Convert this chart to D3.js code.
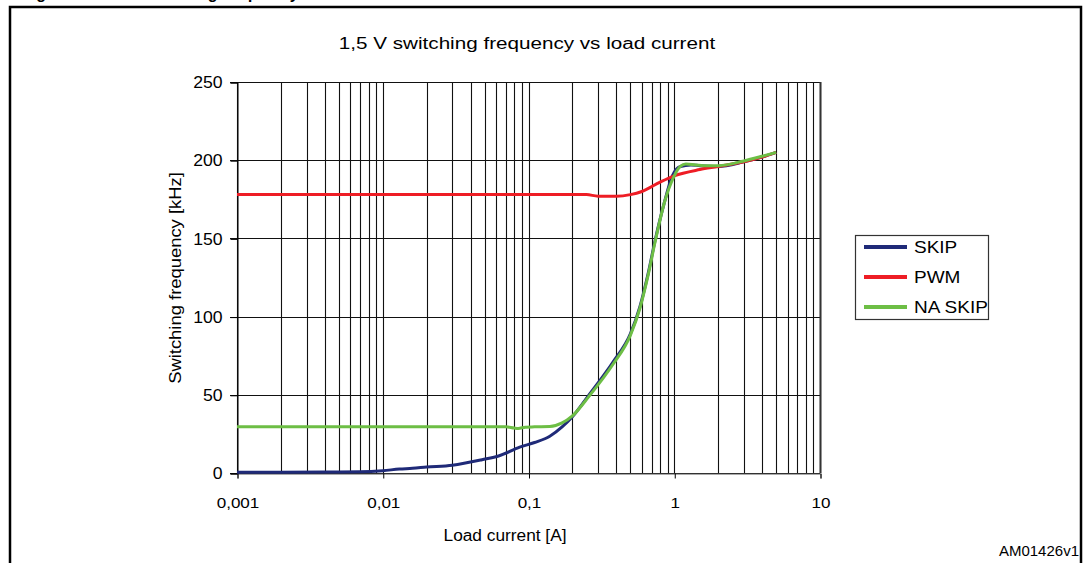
<!DOCTYPE html>
<html>
<head>
<meta charset="utf-8">
<script src="https://cdn.jsdelivr.net/npm/d3@7"></script>
<style>
  html, body { margin: 0; padding: 0; background: #fff; }
  svg { display: block; }
  text { font-family: Arial, "Liberation Sans", sans-serif; fill: #000; }
</style>
</head>
<body>
<svg id="chart" width="1087" height="563"></svg>
<script>
// Load current [A] / switching frequency [kHz]
const skipCurrent = [0.001, 0.002, 0.004, 0.007, 0.01, 0.013, 0.016, 0.02, 0.03, 0.048, 0.063, 0.087, 0.11, 0.14, 0.17, 0.2, 0.26, 0.38, 0.5, 0.58, 0.66, 0.74, 0.85, 0.97, 1.1, 1.3, 1.5, 2, 3, 4, 5];
const skipFreq    = [0.5, 0.5, 0.6, 0.8, 1.5, 2.5, 3, 3.8, 5, 8.5, 11, 16.5, 19.5, 23.5, 29.5, 36, 50, 71, 89, 106, 127, 149, 172, 190, 196, 197, 196.5, 196, 199, 202, 205];

const pwmCurrent = [0.001, 0.002, 0.005, 0.01, 0.02, 0.05, 0.1, 0.2, 0.25, 0.3, 0.4, 0.5, 0.6, 0.8, 1, 1.5, 2, 3, 4, 5];
const pwmFreq    = [178, 178, 178, 178, 178, 178, 178, 178, 178, 177, 177, 178, 180, 186, 190, 194, 196, 199, 202, 205];

const naSkipCurrent = [0.001, 0.002, 0.005, 0.01, 0.02, 0.05, 0.07, 0.08, 0.085, 0.095, 0.11, 0.14, 0.17, 0.2, 0.26, 0.38, 0.5, 0.58, 0.66, 0.74, 0.85, 1.0, 1.1, 1.2, 1.4, 1.7, 2, 3, 4, 5];
const naSkipFreq    = [29.5, 29.5, 29.5, 29.5, 29.5, 29.5, 29.5, 28.7, 28.5, 29.3, 29.5, 29.7, 32, 36.5, 49, 69.5, 88, 105, 126, 148, 172, 190, 196, 197.5, 197, 196.5, 196.5, 199.5, 202.5, 205];

const xTickValues = [0.001, 0.01, 0.1, 1, 10];
const xTickLabels = ["0,001", "0,01", "0,1", "1", "10"];
const yTickValues = [0, 50, 100, 150, 200, 250];

const seriesNames  = ["SKIP", "PWM", "NA SKIP"];
const seriesColors = ["#1f2a78", "#ee1d25", "#6dbe45"];

const svg = d3.select("#chart");
const plot = { left: 237, right: 820, top: 82, bottom: 473 };

const x = d3.scaleLog().domain([0.001, 10]).range([plot.left, plot.right]);
const y = d3.scaleLinear().domain([0, 250]).range([plot.bottom, plot.top]);

// widen glyphs horizontally while keeping their height
function widen(sel, factor) {
  sel.each(function () {
    const w = this.getComputedTextLength();
    d3.select(this).attr("textLength", w * factor).attr("lengthAdjust", "spacingAndGlyphs");
  });
}

// outer frame and figure caption above it
svg.append("text")
  .attr("x", 22).attr("y", -1)
  .style("font-weight", "bold").style("font-size", "16px")
  .text("Figure 16. 1.5 V switching frequency vs. load current");
svg.append("rect")
  .attr("x", 10).attr("y", 7).attr("width", 1071).attr("height", 620)
  .attr("fill", "none").attr("stroke", "#000").attr("stroke-width", 2.5);

// chart title
svg.append("text")
  .attr("x", 527).attr("y", 49)
  .attr("text-anchor", "middle").style("font-size", "16px")
  .text("1,5 V switching frequency vs load current")
  .call(widen, 1.29);

// vertical grid at every log tick
const minor = [];
for (let d = 0.001; d < 10; d *= 10) {
  for (let k = 1; k <= 9; k++) minor.push(+(d * k).toPrecision(3));
}
minor.push(10);
svg.append("g").selectAll("line").data(minor).join("line")
  .attr("x1", d => Math.round(x(d)) + 0.5).attr("x2", d => Math.round(x(d)) + 0.5)
  .attr("y1", plot.top).attr("y2", plot.bottom)
  .attr("stroke", "#111").attr("stroke-width", 1.1);

// horizontal grid
svg.append("g").selectAll("line").data(yTickValues).join("line")
  .attr("x1", plot.left - 7).attr("x2", plot.right)
  .attr("y1", d => Math.round(y(d)) + 0.5).attr("y2", d => Math.round(y(d)) + 0.5)
  .attr("stroke", "#111").attr("stroke-width", 1);

// axes
const xAxis = d3.axisBottom(x).tickValues(xTickValues).tickFormat((d, i) => xTickLabels[i]).tickSize(5).tickPadding(18);
const gx = svg.append("g").attr("transform", `translate(0.5,${plot.bottom + 0.5})`).call(xAxis);
gx.select(".domain").attr("stroke", "#555");
gx.selectAll("text").style("font-size", "15.5px").attr("fill", "#000").call(widen, 1.1);

const yAxis = d3.axisLeft(y).tickValues(yTickValues).tickSize(7).tickPadding(8);
const gy = svg.append("g").attr("transform", `translate(${plot.left + 0.5},0.5)`).call(yAxis);
gy.select(".domain").attr("stroke", "#000");
gy.selectAll("text").style("font-size", "16px").attr("fill", "#000").call(widen, 1.1);

// right border of the plot area
svg.append("line")
  .attr("x1", plot.right + 0.5).attr("x2", plot.right + 0.5)
  .attr("y1", plot.top).attr("y2", plot.bottom)
  .attr("stroke", "#333").attr("stroke-width", 2);

// axis titles
svg.append("text")
  .attr("x", 505).attr("y", 541)
  .attr("text-anchor", "middle").style("font-size", "16px")
  .text("Load current [A]")
  .call(widen, 1.08);
svg.append("text")
  .attr("transform", "translate(181,278) rotate(-90)")
  .attr("text-anchor", "middle").style("font-size", "16px")
  .text("Switching frequency [kHz]")
  .call(widen, 1.15);

// curves
const line = d3.line().x(d => x(d[0])).y(d => y(d[1])).curve(d3.curveMonotoneX);
const series = [
  d3.zip(skipCurrent, skipFreq),
  d3.zip(pwmCurrent, pwmFreq),
  d3.zip(naSkipCurrent, naSkipFreq)
];
svg.append("g").selectAll("path").data(series).join("path")
  .attr("d", line)
  .attr("fill", "none")
  .attr("stroke", (d, i) => seriesColors[i])
  .attr("stroke-width", 3)
  .attr("stroke-linejoin", "round");

// legend
const lg = svg.append("g");
lg.append("rect")
  .attr("x", 855.5).attr("y", 235.5).attr("width", 133).attr("height", 84)
  .attr("fill", "#fff").attr("stroke", "#333").attr("stroke-width", 1.2);
seriesNames.forEach((name, i) => {
  const yy = 247 + i * 30;
  lg.append("line")
    .attr("x1", 864).attr("x2", 907).attr("y1", yy).attr("y2", yy)
    .attr("stroke", seriesColors[i]).attr("stroke-width", 4);
  lg.append("text")
    .attr("x", 914).attr("y", yy + 6)
    .style("font-size", "16.5px")
    .text(name)
    .call(widen, 1.15);
});

// document code
svg.append("text")
  .attr("x", 1079).attr("y", 556)
  .attr("text-anchor", "end").style("font-size", "15px")
  .text("AM01426v1");
</script>
</body>
</html>
